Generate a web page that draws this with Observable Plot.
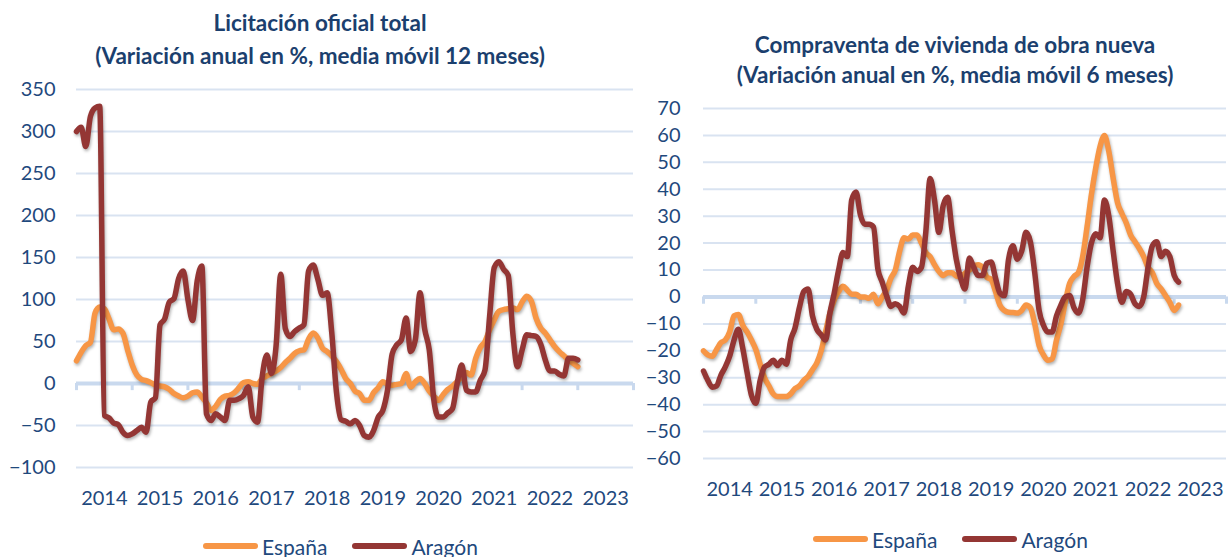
<!DOCTYPE html>
<html><head><meta charset="utf-8">
<script src="https://cdn.jsdelivr.net/npm/d3@7"></script>
<script src="https://cdn.jsdelivr.net/npm/@observablehq/plot@0.6"></script>
<style>
body{margin:0;background:#fff;width:1229px;height:557px;overflow:hidden;position:relative;font-family:Lato, sans-serif;color:#1F497D}
.title{position:absolute;transform:translateX(-50%);white-space:nowrap;text-align:center;font-weight:bold;font-size:22.5px;color:#1B3F6E}
.plot{position:absolute}
.legend{position:absolute;display:flex;align-items:center;font-size:21px;height:24px;white-space:nowrap}
.sw{display:inline-block;width:55px;height:6px;border-radius:3px;margin-right:4px}
.item{display:flex;align-items:center;margin-right:25px}
svg g[aria-label="line"] path{filter:drop-shadow(1px 2px 1.5px rgba(0,0,0,0.3))}
</style></head><body>
<div id="root"></div>
<script>
// ---- data ----
const seriesNames = ["España", "Aragón"];
const seriesColors = ["#F79646", "#943634"];
const yearLabels = [2014, 2015, 2016, 2017, 2018, 2019, 2020, 2021, 2022, 2023];
const startYear = 2014;

// Licitación oficial total (monthly from Jan 2014)
const licEspana = [27,37,45,49,84,91,89,77,64,65,60,40,
  22,10,5,3.5,1,-2,-3,-4,-7,-12,-15,-17,
  -15,-11,-10,-16,-23,-32,-27,-19,-15,-14,-11,-5,
  1,2,0,-1,6,9,12,15,19,25,30,36,
  39,40,53,60,54,42,38,33,26,17,6,0,
  -9,-12,-20,-20,-11,-5,2,-1,-2,-1,0,12,
  -4,2,6,0,-9,-15,-20,-13,-7,-3,2,8,
  13,10,30,43,50,64,76,86,88,89,90,88,
  97,104,98,78,66,60,52,44,38,33,28,24,
  20];
const licAragon = [300,305,282,318,328,330,-38,-41,-47,-49,-58,-62,
  -60,-56,-52,-58,-22,-17,70,77,97,101,125,134,
  100,75,122,140,-36,-44,-36,-40,-44,-20,-20,-18,
  -14,-4,-40,-46,8,34,12,45,130,65,56,62,
  66,70,134,141,124,105,108,60,-10,-43,-45,-48,
  -44,-50,-62,-64,-56,-40,-32,-8,35,46,52,78,
  38,52,108,65,40,-20,-40,-40,-35,-30,0,22,
  -8,-10,-10,4,16,80,138,145,136,129,60,20,
  40,58,57,56,47,28,15,15,11,9,30,30,
  28];
const licTicks = [-100,-50,0,50,100,150,200,250,300,350];

// Compraventa de vivienda de obra nueva (monthly from Jan 2014)
const cvEspana = [-20,-21.5,-22,-19.5,-17,-16,-13,-7,-6.5,-10.5,-13,-16,
  -19.5,-25,-30,-33,-36,-37,-37,-37,-36,-34,-33,-31,
  -29.5,-27,-24.5,-20,-13,-6,-1,2,4,2.5,1,1,
  0,0,-0.5,1,-2.5,0,2.5,7,10,17,22,21.5,
  23,23,20,16.5,15,12,9.5,8,9,9,7.8,7.6,
  8.8,10,11.5,12,11,7.4,6.5,2,-3,-5,-5.7,-5.8,
  -6,-5,-3,-4,-10,-18,-21.5,-23.5,-23,-16,-10,-2,
  5,7.6,9,15,26,38,48,56,60,54,44,35,
  31,27.5,23,20.5,18,15,11,9,5,3,0.5,-2,
  -5,-3];
const cvAragon = [-27.5,-31,-33.5,-33,-29,-26,-22,-16,-12,-19,-28,-36.5,
  -39.5,-31,-26,-25,-23.5,-25.5,-23.5,-25,-16,-11.5,-4,2,
  3,-7,-12,-14,-16,-6,1.5,10,16.5,15,36,39,
  30.5,27,27,26,10.5,5.5,0.5,-3.5,-2.5,-3.5,-6,4,
  11,9.5,11,24,44,36,24,34,37,25,14,7,
  3,14.5,11,8,8,12.5,13,7,1.5,0.5,14,19,
  14,17,24,20.5,9,-5,-10.5,-13,-13,-7,-3,0,
  0.5,-4,-6,-1,11,20,23.5,22,36,30,17,5,
  -2,2,1,-2.5,-3.5,0,11,19,20.5,15,17,15,
  8,5.5];
const cvTicks = [-60,-50,-40,-30,-20,-10,0,10,20,30,40,50,60,70];

const titles = [
  ["Licitación oficial total", "(Variación anual en %, media móvil 12 meses)"],
  ["Compraventa de vivienda de obra nueva", "(Variación anual en %, media móvil 6 meses)"]
];

// ---- drawing ----
const gridColor = "#D9E3F1";
const axisColor = "#C9D9EE";
const textColor = "#1F497D";
const root = document.getElementById("root");

function toRows(values) {
  return values.map((v, i) => ({x: startYear + i / 12, y: v}));
}

function makeChart(cfg) {
  const bounds = yearLabels.concat([yearLabels[yearLabels.length - 1] + 1]);
  const plot = Plot.plot({
    width: cfg.width, height: cfg.height,
    marginLeft: cfg.ml, marginRight: cfg.mr, marginTop: cfg.mt, marginBottom: cfg.mb,
    style: {fontFamily: "Lato, sans-serif", fontSize: "20px", color: textColor, background: "transparent", overflow: "visible"},
    x: {type: "linear", domain: [bounds[0], bounds[bounds.length - 1]], label: null},
    y: {domain: [cfg.ticks[0], cfg.ticks[cfg.ticks.length - 1]], label: null},
    marks: [
      Plot.gridY(cfg.ticks.filter(d => d !== 0), {stroke: gridColor, strokeOpacity: 1, strokeWidth: 2}),
      Plot.ruleY([0], {stroke: axisColor, strokeWidth: 4}),
      Plot.ruleX(bounds, {x: d => d, y1: 0, y2: -cfg.tickLen, stroke: axisColor, strokeWidth: 3}),
      Plot.line(toRows(cfg.series[0]), {x: "x", y: "y", stroke: seriesColors[0], strokeWidth: 5.5, curve: "monotone-x"}),
      Plot.line(toRows(cfg.series[1]), {x: "x", y: "y", stroke: seriesColors[1], strokeWidth: 5.5, curve: "monotone-x"}),
      Plot.axisY(cfg.ticks, {tickSize: 0, tickPadding: cfg.yPad, fill: textColor, label: null}),
      Plot.axisX(yearLabels.map(y => y + 0.5), {tickSize: 0, tickPadding: 23, tickFormat: d => String(Math.floor(d)), fill: textColor, label: null})
    ]
  });
  plot.classList.add("plot");
  plot.style.left = cfg.left + "px";
  plot.style.top = cfg.top + "px";
  root.appendChild(plot);

  const t = document.createElement("div");
  t.className = "title";
  t.style.left = cfg.titleX + "px";
  t.style.top = cfg.titleTop + "px";
  t.style.lineHeight = cfg.titleLH + "px";
  t.innerHTML = cfg.title.join("<br>");
  root.appendChild(t);

  const lg = document.createElement("div");
  lg.className = "legend";
  lg.style.left = cfg.legendX + "px";
  lg.style.top = cfg.legendTop + "px";
  seriesNames.forEach((n, i) => {
    const it = document.createElement("div");
    it.className = "item";
    const sw = document.createElement("span");
    sw.className = "sw";
    sw.style.background = seriesColors[i];
    it.appendChild(sw);
    const tx = document.createElement("span");
    tx.textContent = n;
    it.appendChild(tx);
    lg.appendChild(it);
  });
  root.appendChild(lg);
}

makeChart({
  series: [licEspana, licAragon], ticks: licTicks, tickLen: 8.5,
  left: 0, top: 70, width: 633, height: 450, ml: 76, mr: 0, mt: 19, mb: 53, yPad: 21,
  title: titles[0], titleX: 320, titleTop: 6, titleLH: 33,
  legendX: 203, legendTop: 534
});
makeChart({
  series: [cvEspana, cvAragon], ticks: cvTicks, tickLen: 2.7,
  left: 630, top: 90, width: 599, height: 430, ml: 73, mr: 3, mt: 18, mb: 62, yPad: 23,
  title: titles[1], titleX: 955, titleTop: 30, titleLH: 30,
  legendX: 813, legendTop: 527
});
</script>
</body></html>
